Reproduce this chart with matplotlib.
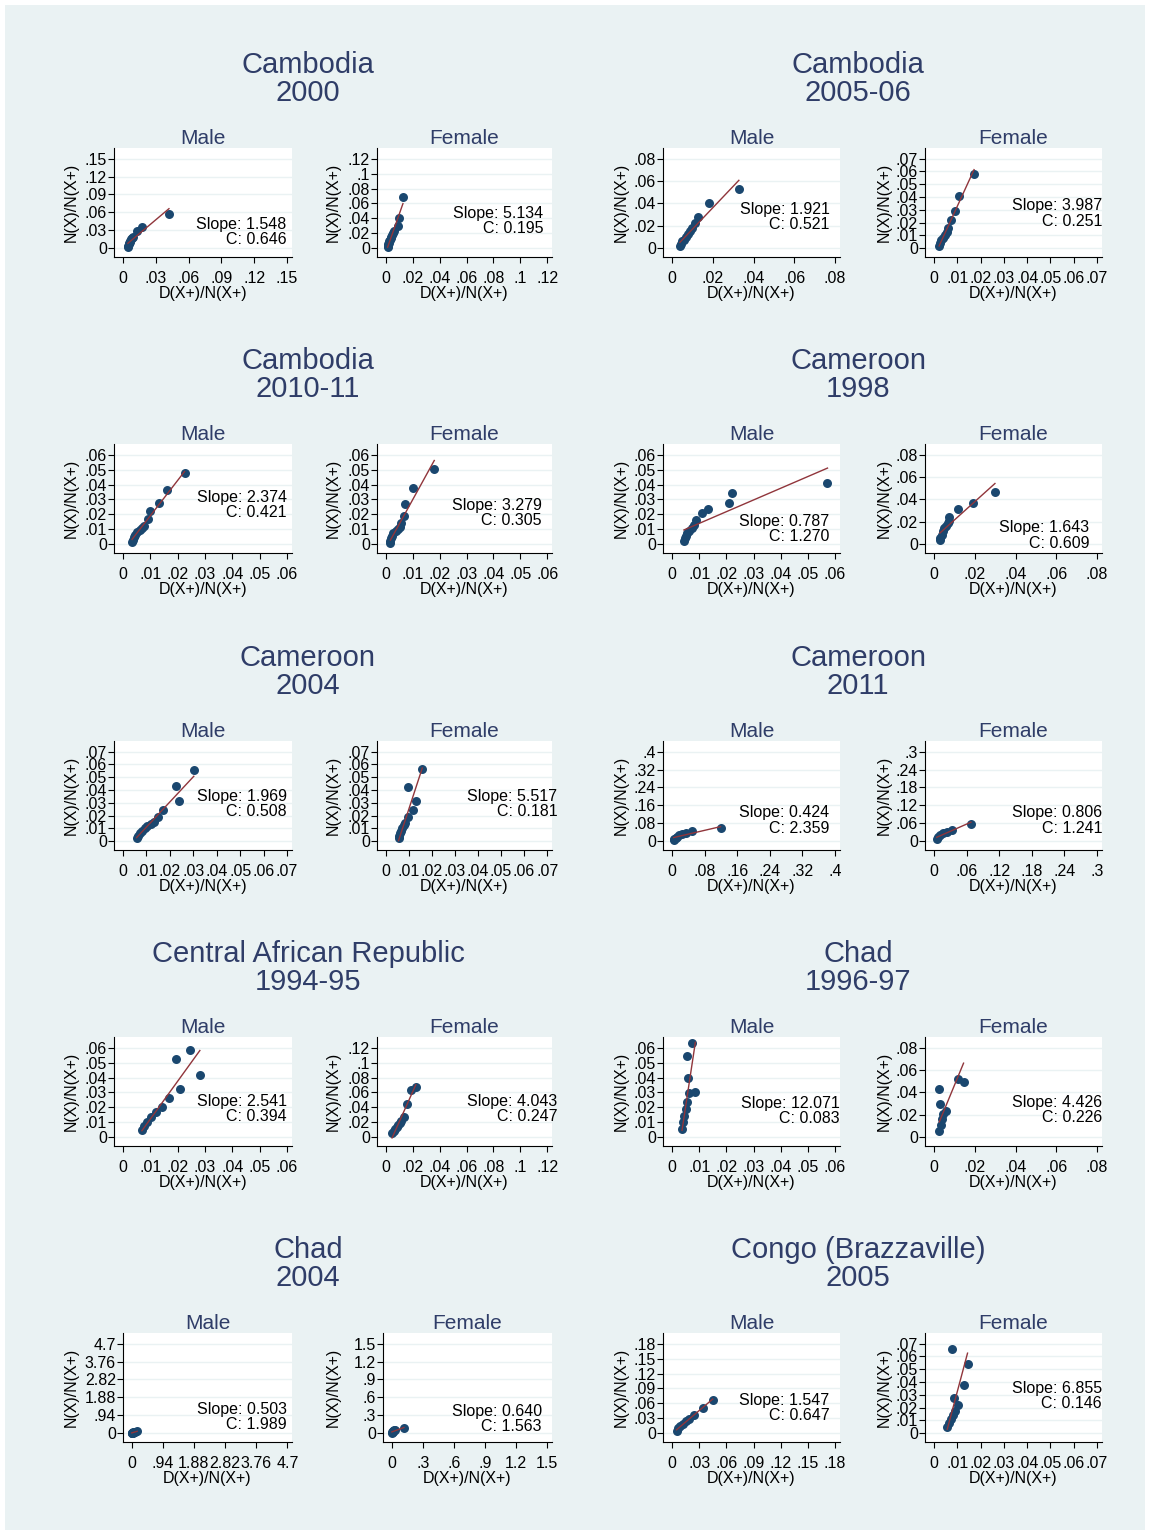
import numpy as np
import matplotlib
matplotlib.use('Agg')
import matplotlib.pyplot as plt

plt.rcParams['font.family'] = ['Liberation Sans', 'DejaVu Sans']

# ---- data ----
surveys = [('Cambodia', '2000'), ('Cambodia', '2005-06'),
           ('Cambodia', '2010-11'), ('Cameroon', '1998'),
           ('Cameroon', '2004'), ('Cameroon', '2011'),
           ('Central African Republic', '1994-95'), ('Chad', '1996-97'),
           ('Chad', '2004'), ('Congo (Brazzaville)', '2005')]

# slopes and C, male then female for each survey
slopes = [1.548, 5.134, 1.921, 3.987, 2.374, 3.279, 0.787, 1.643, 1.969, 5.517,
          0.424, 0.806, 2.541, 4.043, 12.071, 4.426, 0.503, 0.640, 1.547, 6.855]
c_vals = [0.646, 0.195, 0.521, 0.251, 0.421, 0.305, 1.270, 0.609, 0.508, 0.181,
          2.359, 1.241, 0.394, 0.247, 0.083, 0.226, 1.989, 1.563, 0.647, 0.146]

# axis ticks (same on x and y)
ticks = [
    [0, .03, .06, .09, .12, .15], [0, .02, .04, .06, .08, .1, .12],
    [0, .02, .04, .06, .08], [0, .01, .02, .03, .04, .05, .06, .07],
    [0, .01, .02, .03, .04, .05, .06], [0, .01, .02, .03, .04, .05, .06],
    [0, .01, .02, .03, .04, .05, .06], [0, .02, .04, .06, .08],
    [0, .01, .02, .03, .04, .05, .06, .07], [0, .01, .02, .03, .04, .05, .06, .07],
    [0, .08, .16, .24, .32, .4], [0, .06, .12, .18, .24, .3],
    [0, .01, .02, .03, .04, .05, .06], [0, .02, .04, .06, .08, .1, .12],
    [0, .01, .02, .03, .04, .05, .06], [0, .02, .04, .06, .08],
    [0, .94, 1.88, 2.82, 3.76, 4.7], [0, .3, .6, .9, 1.2, 1.5],
    [0, .03, .06, .09, .12, .15, .18], [0, .01, .02, .03, .04, .05, .06, .07],
]

cam2000_m_x = [0.0045, 0.0048, 0.0052, 0.0056, 0.0060, 0.0065, 0.0072, 0.0080, 0.0090, 0.0130, 0.0172, 0.0420]
cam2000_m_y = [0.0010, 0.0035, 0.0060, 0.0085, 0.0105, 0.0125, 0.0145, 0.0165, 0.0190, 0.0280, 0.0360, 0.0570]
cam2000_f_x = [0.0013, 0.0015, 0.0018, 0.0022, 0.0026, 0.0030, 0.0035, 0.0040, 0.0046, 0.0052, 0.0058, 0.0090, 0.0095, 0.0127]
cam2000_f_y = [0.0010, 0.0030, 0.0050, 0.0070, 0.0090, 0.0110, 0.0130, 0.0155, 0.0180, 0.0205, 0.0230, 0.0300, 0.0410, 0.0680]
cam2005_m_x = [0.0039, 0.0042, 0.0050, 0.0060, 0.0070, 0.0080, 0.0088, 0.0100, 0.0115, 0.0130, 0.0180, 0.0328]
cam2005_m_y = [0.0020, 0.0035, 0.0060, 0.0075, 0.0096, 0.0126, 0.0150, 0.0180, 0.0225, 0.0280, 0.0400, 0.0533]
cam2005_f_x = [0.0022, 0.0025, 0.0032, 0.0040, 0.0047, 0.0055, 0.0059, 0.0072, 0.0090, 0.0106, 0.0172]
cam2005_f_y = [0.0020, 0.0040, 0.0060, 0.0080, 0.0104, 0.0125, 0.0160, 0.0217, 0.0290, 0.0407, 0.0582]
cam2010_m_x = [0.0033, 0.0036, 0.0039, 0.0045, 0.0051, 0.0061, 0.0070, 0.0078, 0.0091, 0.0100, 0.0131, 0.0162, 0.0225]
cam2010_m_y = [0.0011, 0.0027, 0.0045, 0.0063, 0.0079, 0.0094, 0.0108, 0.0119, 0.0169, 0.0220, 0.0274, 0.0366, 0.0479]
cam2010_f_x = [0.0017, 0.0017, 0.0019, 0.0023, 0.0028, 0.0036, 0.0045, 0.0054, 0.0058, 0.0067, 0.0073, 0.0100, 0.0180]
cam2010_f_y = [0.0007, 0.0022, 0.0038, 0.0056, 0.0072, 0.0085, 0.0099, 0.0112, 0.0144, 0.0191, 0.0270, 0.0375, 0.0503]
cmr1998_m_x = [0.0044, 0.0047, 0.0051, 0.0057, 0.0063, 0.0072, 0.0080, 0.0088, 0.0111, 0.0134, 0.0211, 0.0221, 0.0572]
cmr1998_m_y = [0.0022, 0.0040, 0.0056, 0.0072, 0.0090, 0.0108, 0.0130, 0.0162, 0.0207, 0.0238, 0.0279, 0.0346, 0.0409]
cmr1998_f_x = [0.0029, 0.0032, 0.0038, 0.0046, 0.0051, 0.0061, 0.0070, 0.0074, 0.0074, 0.0118, 0.0189, 0.0299]
cmr1998_f_y = [0.0034, 0.0058, 0.0085, 0.0119, 0.0143, 0.0163, 0.0187, 0.0211, 0.0245, 0.0313, 0.0364, 0.0466]
cmr2004_m_x = [0.0058, 0.0064, 0.0072, 0.0082, 0.0093, 0.0104, 0.0119, 0.0133, 0.0148, 0.0169, 0.0227, 0.0239, 0.0302]
cmr2004_m_y = [0.0021, 0.0042, 0.0060, 0.0079, 0.0100, 0.0118, 0.0134, 0.0153, 0.0192, 0.0240, 0.0429, 0.0313, 0.0553]
cmr2004_f_x = [0.0055, 0.0058, 0.0062, 0.0066, 0.0072, 0.0077, 0.0084, 0.0095, 0.0095, 0.0118, 0.0131, 0.0158]
cmr2004_f_y = [0.0021, 0.0039, 0.0060, 0.0082, 0.0103, 0.0124, 0.0145, 0.0192, 0.0421, 0.0242, 0.0316, 0.0568]
cmr2011_m_x = [0.004, 0.006, 0.009, 0.013, 0.018, 0.025, 0.035, 0.050, 0.119]
cmr2011_m_y = [0.005, 0.010, 0.015, 0.020, 0.025, 0.030, 0.037, 0.043, 0.060]
cmr2011_f_x = [0.005, 0.008, 0.012, 0.017, 0.024, 0.033, 0.068]
cmr2011_f_y = [0.008, 0.014, 0.020, 0.026, 0.032, 0.037, 0.058]
car1994_m_x = [0.0069, 0.0077, 0.0088, 0.0104, 0.0119, 0.0142, 0.0169, 0.0208, 0.0192, 0.0246, 0.0281]
car1994_m_y = [0.0047, 0.0074, 0.0101, 0.0135, 0.0169, 0.0202, 0.0263, 0.0324, 0.0526, 0.0587, 0.0418]
car1994_f_x = [0.0046, 0.0058, 0.0069, 0.0080, 0.0092, 0.0104, 0.0115, 0.0138, 0.0160, 0.0185, 0.0223]
car1994_f_y = [0.0054, 0.0080, 0.0108, 0.0135, 0.0160, 0.0188, 0.0216, 0.0270, 0.0445, 0.0630, 0.0674]
chad1996_m_x = [0.0037, 0.0041, 0.0045, 0.0052, 0.0056, 0.0064, 0.0060, 0.0086, 0.0056, 0.0075]
chad1996_m_y = [0.0057, 0.0100, 0.0143, 0.0186, 0.0236, 0.0293, 0.0400, 0.0300, 0.0543, 0.0629]
chad1996_f_x = [0.0026, 0.0036, 0.0041, 0.0046, 0.0031, 0.0026, 0.0057, 0.0119, 0.0145]
chad1996_f_y = [0.0054, 0.0108, 0.0162, 0.0207, 0.0297, 0.0432, 0.0234, 0.0522, 0.0495]
chad2004_m_x = [0.005, 0.010, 0.020, 0.030, 0.050, 0.070, 0.100, 0.170]
chad2004_m_y = [0.005, 0.012, 0.020, 0.025, 0.035, 0.045, 0.060, 0.085]
chad2004_f_x = [0.003, 0.006, 0.010, 0.014, 0.018, 0.024, 0.030, 0.119]
chad2004_f_y = [0.005, 0.012, 0.020, 0.028, 0.036, 0.046, 0.056, 0.078]
congo2005_m_x = [0.005, 0.007, 0.009, 0.012, 0.015, 0.019, 0.024, 0.034, 0.045]
congo2005_m_y = [0.005, 0.010, 0.014, 0.019, 0.024, 0.029, 0.036, 0.050, 0.066]
congo2005_f_x = [0.0057, 0.0066, 0.0074, 0.0083, 0.0092, 0.0101, 0.0087, 0.0079, 0.0127, 0.0144]
congo2005_f_y = [0.0047, 0.0079, 0.0110, 0.0142, 0.0173, 0.0220, 0.0275, 0.0660, 0.0378, 0.0543]

points = [
    (cam2000_m_x, cam2000_m_y), (cam2000_f_x, cam2000_f_y),
    (cam2005_m_x, cam2005_m_y), (cam2005_f_x, cam2005_f_y),
    (cam2010_m_x, cam2010_m_y), (cam2010_f_x, cam2010_f_y),
    (cmr1998_m_x, cmr1998_m_y), (cmr1998_f_x, cmr1998_f_y),
    (cmr2004_m_x, cmr2004_m_y), (cmr2004_f_x, cmr2004_f_y),
    (cmr2011_m_x, cmr2011_m_y), (cmr2011_f_x, cmr2011_f_y),
    (car1994_m_x, car1994_m_y), (car1994_f_x, car1994_f_y),
    (chad1996_m_x, chad1996_m_y), (chad1996_f_x, chad1996_f_y),
    (chad2004_m_x, chad2004_m_y), (chad2004_f_x, chad2004_f_y),
    (congo2005_m_x, congo2005_m_y), (congo2005_f_x, congo2005_f_y),
]

# ---- layout (pixels) ----
W, H = 1150, 1535
col_left = [114, 377, 663, 925]
col_right = [292, 552, 840, 1102]
ylab_right = [79, 341, 629, 892]   # right edge of the rotated y title
row_top = [148, 444, 741, 1037, 1333]
ax_h = 109
left_shift = {16: 9, 17: 6}   # wider tick labels in Chad 2004
# slope text: right edge and vertical centre in axes fraction
text_pos = [(0.97, 0.30), (0.95, 0.40), (0.94, 0.44), (1.00, 0.47),
            (0.97, 0.51), (0.94, 0.44), (0.94, 0.29), (0.93, 0.23),
            (0.97, 0.49), (1.03, 0.49), (0.94, 0.34), (1.00, 0.34),
            (0.97, 0.41), (1.03, 0.41), (1.00, 0.39), (1.00, 0.40),
            (0.97, 0.30), (0.94, 0.28), (0.94, 0.38), (1.00, 0.49)]

navy = '#1a476f'
maroon = '#90353b'
title_col = '#2f3d68'
bg = '#eaf2f3'


def stata_fmt(v):
    if v == 0:
        return '0'
    s = f'{round(v, 4):g}'
    if s.startswith('0.'):
        s = s[1:]
    return s


fig = plt.figure(figsize=(W / 100, H / 100), dpi=100)
fig.patch.set_facecolor('white')
fig.add_artist(plt.Rectangle((5 / W, 5 / H), (W - 10) / W, (H - 10) / H,
                             transform=fig.transFigure, facecolor=bg,
                             edgecolor='none', zorder=-10))

for i in range(20):
    survey = i // 2
    row = survey // 2
    col = (survey % 2) * 2 + (i % 2)
    left = col_left[col] + left_shift.get(i, 0)
    right = col_right[col]
    width = right - left
    top = row_top[row]
    ax = fig.add_axes([left / W, 1 - (top + ax_h) / H, width / W, ax_h / H])
    ax.set_facecolor('white')

    x = np.array(points[i][0])
    y = np.array(points[i][1])
    tk = ticks[i]
    T = tk[-1]
    ax.set_xlim(-0.055 * T, 1.03 * T)
    ax.set_ylim(-0.1 * T, 1.12 * T)
    ax.set_xticks(tk)
    ax.set_yticks(tk)
    ax.set_xticklabels([stata_fmt(v) for v in tk])
    ax.set_yticklabels([stata_fmt(v) for v in tk])

    ax.scatter(x, y, s=42, color=navy, zorder=3, linewidths=0)
    b = y.mean() - slopes[i] * x.mean()
    xl = np.array([x.min(), x.max()])
    ax.plot(xl, slopes[i] * xl + b, color=maroon, lw=1, zorder=4)

    ax.grid(axis='y', color=bg, lw=1)
    ax.set_axisbelow(True)
    for s in ['top', 'right']:
        ax.spines[s].set_visible(False)
    for s in ['left', 'bottom']:
        ax.spines[s].set_color('black')
        ax.spines[s].set_linewidth(0.8)
    ax.tick_params(direction='out', length=4, width=0.8, labelsize=11.5)
    ax.tick_params(axis='x', pad=6)
    ax.tick_params(axis='y', pad=1)

    ax.set_xlabel('D(X+)/N(X+)', fontsize=11.5)
    ax.set_ylabel('N(X)/N(X+)', fontsize=11.5)
    ax.xaxis.set_label_coords(0.5, -0.27)
    ax.yaxis.set_label_coords((ylab_right[col] - left) / width, 0.5)
    ax.set_title('Male' if i % 2 == 0 else 'Female', fontsize=15,
                 color=title_col, pad=3)

    tx, ty = text_pos[i]
    ax.text(tx, ty, f'Slope: {slopes[i]:.3f}', transform=ax.transAxes,
            ha='right', va='center', fontsize=11.5, clip_on=False)
    ax.annotate(f'C: {c_vals[i]:.3f}', xy=(tx, ty), xycoords='axes fraction',
                xytext=(0, -11), textcoords='offset points',
                ha='right', va='center', fontsize=11.5)

# survey titles
for k, (country, year) in enumerate(surveys):
    row = k // 2
    cx = 308 if k % 2 == 0 else 858
    ty = 65 + 296.3 * row
    fig.text(cx / W, 1 - ty / H, country, ha='center', va='center',
             fontsize=21, color=title_col)
    fig.text(cx / W, 1 - (ty + 28) / H, year, ha='center', va='center',
             fontsize=21, color=title_col)

fig.savefig('out.png', dpi=100, facecolor=fig.get_facecolor())
